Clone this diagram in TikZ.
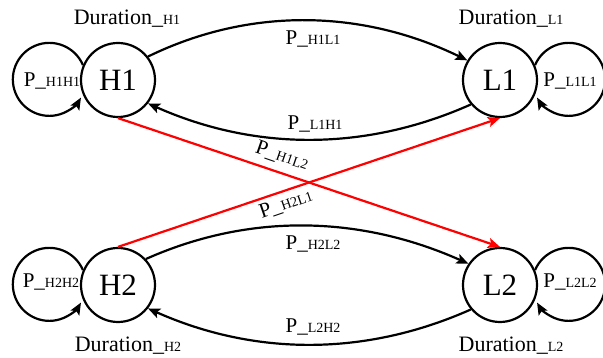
\documentclass[tikz,border=0pt]{standalone}
\usepackage{fontspec}
\setmainfont{Liberation Serif}
\usetikzlibrary{arrows.meta}
\newcommand\smsub[1]{{\fontsize{14}{14}\selectfont #1}}
\begin{document}
\begin{tikzpicture}[x=1pt,y=1pt,
  state/.style={circle,draw,line width=2.2pt,minimum size=74pt,inner sep=0pt,font=\fontsize{31}{31}\selectfont},
  lbl/.style={font=\fontsize{21}{21}\selectfont,inner sep=0pt,anchor=base},
  rlbl/.style={font=\fontsize{21}{21}\selectfont,inner sep=0pt,anchor=center},
  dur/.style={font=\fontsize{22}{22}\selectfont,inner sep=0pt,anchor=base},
  arr/.style={line width=2.2pt,-{Stealth[length=12pt,width=10pt,inset=2.5pt]}},
  redarr/.style={arr,draw=red,fill=red}]
\useasboundingbox (0,0) rectangle (603,358);
\node[state] (H1) at (118,278) {H1};
\node[state] (L1) at (500,278) {L1};
\node[state] (H2) at (118,73) {H2};
\node[state] (L2) at (500,73) {L2};
% self loops
\draw[arr] (H1.157) arc[start angle=23,end angle=330,radius=36.5];
\draw[arr] (L1.23) arc[start angle=157,end angle=-150,radius=36.5];
\draw[arr] (H2.157) arc[start angle=23,end angle=330,radius=36.5];
\draw[arr] (L2.23) arc[start angle=157,end angle=-150,radius=36.5];
% arcs between
\draw[arr] (H1.38) to[out=26,in=154,looseness=0.92] (L1.149);
\draw[arr] (L1.220) to[out=204,in=336,looseness=0.92] (H1.322);
\draw[arr] (H2.43) to[out=24,in=156,looseness=0.92] (L2.146);
\draw[arr] (L2.220) to[out=204,in=336,looseness=0.92] (H2.322);
% red cross
\draw[redarr] (H1.south) -- (L2.north);
\draw[redarr] (H2.north) -- (L1.south);
% labels
\node[dur] (dH1) at (127,333) {Duration\_\smsub{H1}};
\node[dur] (dL1) at (511,333) {Duration\_\smsub{L1}};
\node[dur] (dH2) at (128,6) {Duration\_\smsub{H2}};
\node[dur] (dL2) at (511,6) {Duration\_\smsub{L2}};
\node[lbl] (pH1H1) at (52,271) {P\_\smsub{H1H1}};
\node[lbl] (pL1L1) at (570,271) {P\_\smsub{L1L1}};
\node[lbl] (pH2H2) at (51,70) {P\_\smsub{H2H2}};
\node[lbl] (pL2L2) at (570,70) {P\_\smsub{L2L2}};
\node[lbl] (pH1L1) at (313,313) {P\_\smsub{H1L1}};
\node[lbl] (pL1H1) at (315,228) {P\_\smsub{L1H1}};
\node[lbl] (pH2L2) at (313,108) {P\_\smsub{H2L2}};
\node[lbl] (pL2H2) at (313,25) {P\_\smsub{L2H2}};
\node[rlbl,rotate=-19] (pH1L2) at (282,202) {P\_\smsub{H1L2}};
\node[rlbl,rotate=19] (pH2L1) at (286,154) {P\_\smsub{H2L1}};
\end{tikzpicture}
\end{document}
